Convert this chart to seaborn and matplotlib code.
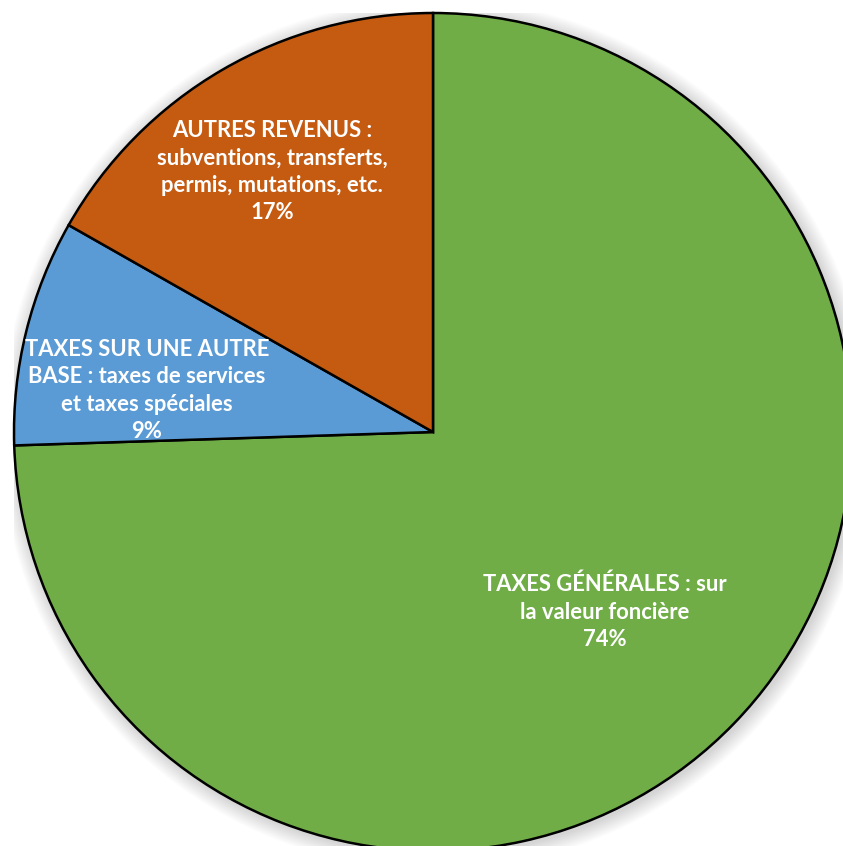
import matplotlib.pyplot as plt
import seaborn as sns
import numpy as np
from matplotlib.patches import Circle

categories = [
    "TAXES GÉNÉRALES : sur\nla valeur foncière",
    "TAXES SUR UNE AUTRE\nBASE : taxes de services\net taxes spéciales",
    "AUTRES REVENUS :\nsubventions, transferts,\npermis, mutations, etc.",
]
# shares (labels show them rounded)
shares = [74.49, 8.73, 16.78]
colors = ["#70AD47", "#5B9BD5", "#C55A11"]
# how far from the centre each label sits (fraction of radius)
label_dist = [0.594, 0.690, 0.730]
label_shift = [-2.2, 5.6, 1.5]  # degrees nudged off the wedge middle

sns.set_theme(style="white")
plt.rcParams['font.family'] = ['Lato', 'DejaVu Sans']

fig = plt.figure(figsize=(8.43, 8.46), dpi=100)
# pie circle: centre (433, 432) px, radius 419 px, partly cut at right/bottom
ax = fig.add_axes([14 / 843, -5 / 846, 838 / 843, 838 / 846])

# soft shadow around the pie
for i in range(14):
    r = 1.0 + (i + 1) * 0.0028
    ax.add_patch(Circle((0.006, -0.006), r, color='black', alpha=0.012, lw=0, zorder=0))

wedges, _ = ax.pie(shares, colors=colors, startangle=90, counterclock=False,
                   radius=1.0, wedgeprops=dict(edgecolor='black', linewidth=1.8))
for w in wedges:
    w.set_zorder(2)

# pie() resets the limits, so set them afterwards
ax.set_xlim(-1, 1)
ax.set_ylim(-1, 1)
ax.set_aspect('equal')
ax.axis('off')

for w, cat, val, d, s in zip(wedges, categories, shares, label_dist, label_shift):
    mid = np.deg2rad((w.theta1 + w.theta2) / 2 + s)
    ax.text(d * np.cos(mid), d * np.sin(mid), f"{cat}\n{val:.0f}%",
            ha='center', va='center', color='white', fontsize=15.8,
            fontweight='bold', linespacing=1.38, zorder=3)

fig.savefig('out.png', dpi=100)
